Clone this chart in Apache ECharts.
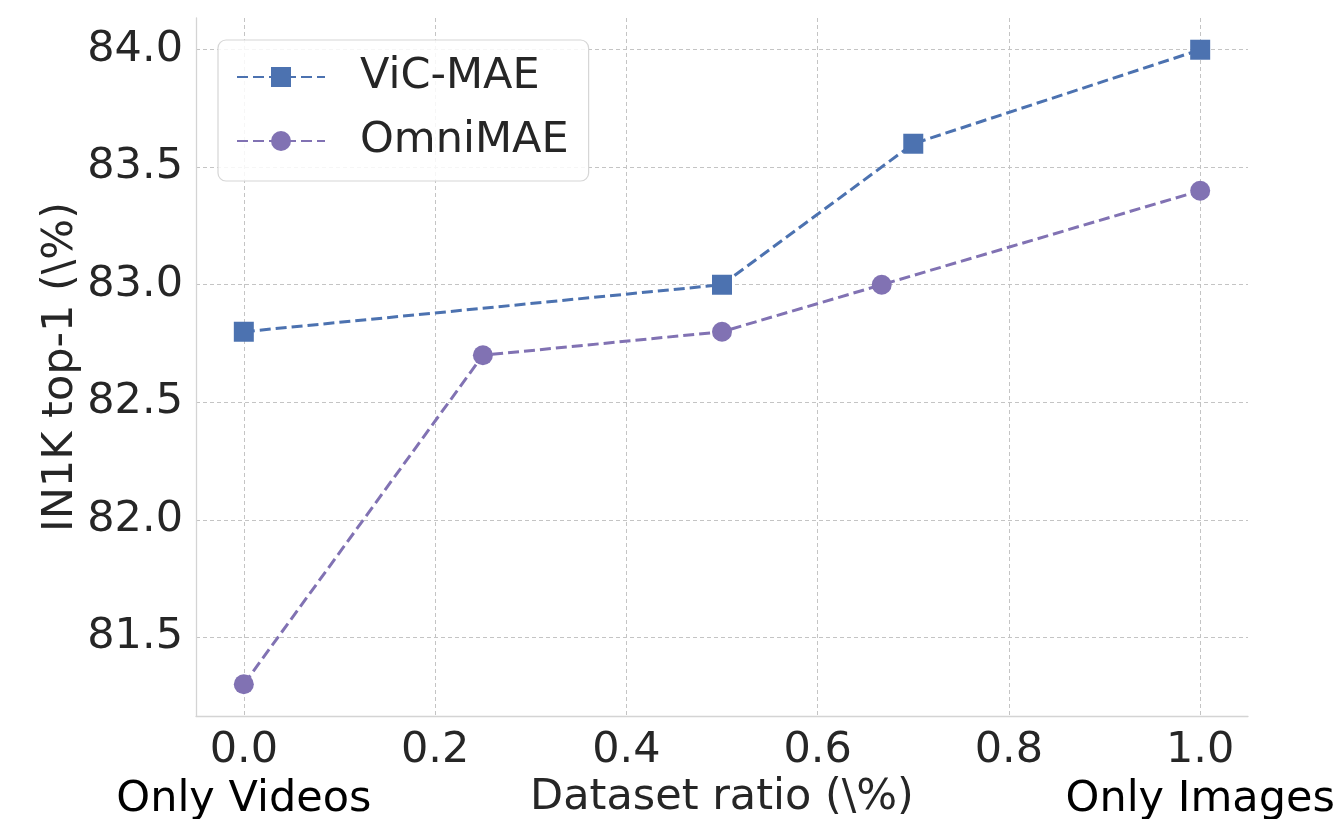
<!DOCTYPE html>
<html>
<head>
<meta charset="utf-8">
<script src="https://cdn.jsdelivr.net/npm/echarts@6/dist/echarts.min.js"></script>
<style>html,body{margin:0;padding:0;background:#fff}#c{width:1341px;height:819px}</style>
</head>
<body>
<div id="c"></div>
<script>
var vicX = [0.0, 0.5, 0.7, 1.0];
var vicY = [82.8, 83.0, 83.6, 84.0];
var omniX = [0.0, 0.25, 0.5, 0.667, 1.0];
var omniY = [81.3, 82.7, 82.8, 83.0, 83.4];
var xTickValues = [0.0, 0.2, 0.4, 0.6, 0.8, 1.0];
var xTickSubLabels = ['Only Videos', '', '', '', '', 'Only Images'];
var yTickValues = [81.5, 82.0, 82.5, 83.0, 83.5, 84.0];
var seriesNames = ['ViC-MAE', 'OmniMAE'];

var FONT = 'DejaVu Sans';
var TXT = '#262626';
var chart = echarts.init(document.getElementById('c'), null, {renderer: 'canvas'});
function pairs(xs, ys) { return xs.map(function (x, i) { return [x, ys[i]]; }); }

chart.setOption({
  animation: false,
  backgroundColor: '#ffffff',
  textStyle: {fontFamily: FONT},
  grid: {left: 196, right: 93, top: 18, bottom: 103, containLabel: false, outerBoundsMode: 'none'},
  legend: {
    left: 218, top: 40, orient: 'vertical',
    padding: [15, 20, 18, 18],
    itemWidth: 88, itemHeight: 25, itemGap: 20,
    borderColor: '#d6d6d6', borderWidth: 1.2, borderRadius: 8,
    backgroundColor: 'rgba(255,255,255,0.85)',
    textStyle: {fontFamily: FONT, fontSize: 43, color: TXT, lineHeight: 44, padding: [0, 0, 0, 30]},
    data: seriesNames
  },
  xAxis: {
    type: 'value', min: -0.05, max: 1.05,
    name: 'Dataset ratio (\\%)', nameLocation: 'middle', nameGap: 60, nameMoveOverlap: false,
    nameTextStyle: {fontFamily: FONT, fontSize: 43, color: TXT},
    axisLine: {show: true, onZero: false, lineStyle: {color: '#d4d4d4', width: 1.3}},
    axisTick: {show: false, customValues: xTickValues},
    axisLabel: {
      customValues: xTickValues, margin: 10,
      formatter: function (v) {
        var i = xTickValues.indexOf(v);
        var s = '{a|' + v.toFixed(1) + '}';
        if (i >= 0 && xTickSubLabels[i]) s += '\n{b|' + xTickSubLabels[i] + '}';
        return s;
      },
      rich: {
        a: {fontFamily: FONT, fontSize: 43, color: TXT, lineHeight: 49},
        b: {fontFamily: FONT, fontSize: 43, color: '#000000', lineHeight: 49}
      }
    },
    splitLine: {show: true, lineStyle: {color: '#c4c4c4', width: 1, type: [4, 3]}}
  },
  yAxis: {
    type: 'value', min: 81.165, max: 84.135,
    name: 'IN1K top-1 (\\%)', nameLocation: 'middle', nameGap: 114, nameRotate: 90, nameMoveOverlap: false,
    nameTextStyle: {fontFamily: FONT, fontSize: 43, color: TXT},
    axisLine: {show: true, onZero: false, lineStyle: {color: '#d4d4d4', width: 1.3}},
    axisTick: {show: false, customValues: yTickValues},
    axisLabel: {
      customValues: yTickValues, margin: 13,
      fontFamily: FONT, fontSize: 43, color: TXT,
      formatter: function (v) { return v.toFixed(1); }
    },
    splitLine: {show: true, lineStyle: {color: '#c4c4c4', width: 1, type: [4, 3]}}
  },
  series: [
    {
      name: seriesNames[0], type: 'line', data: pairs(vicX, vicY),
      symbol: 'rect', symbolSize: 20,
      itemStyle: {color: '#4c72b0'},
      lineStyle: {color: '#4c72b0', width: 3, type: [11, 5]}
    },
    {
      name: seriesNames[1], type: 'line', data: pairs(omniX, omniY),
      symbol: 'circle', symbolSize: 20,
      itemStyle: {color: '#8172b3'},
      lineStyle: {color: '#8172b3', width: 3, type: [11, 5]}
    }
  ]
});
</script>
</body>
</html>
